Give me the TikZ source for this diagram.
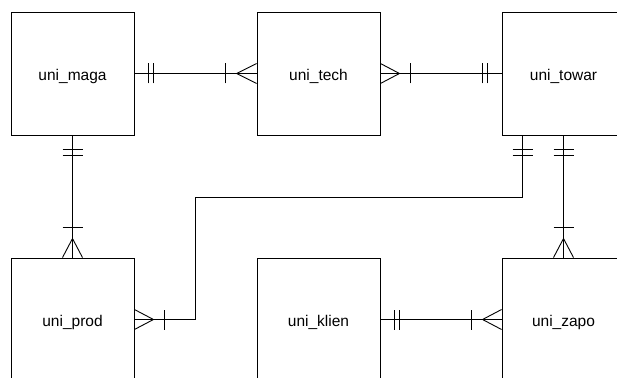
\documentclass[tikz,border=0pt]{standalone}
\usepackage{fontspec}
\setmainfont{Liberation Sans}
\begin{document}
\begin{tikzpicture}[x=1pt,y=-1pt,line width=0.9pt,
  entity/.style={draw, minimum width=123pt, minimum height=123pt, inner sep=0pt,
    text height=16pt, text depth=2pt, font=\fontsize{15.5}{18}\selectfont},
  rel/.style={draw, line width=0.9pt}]
\useasboundingbox (0,0) rectangle (617,377);
\clip (0,0) rectangle (617,377);
\node[entity] (maga)  at (72.5,73.5)  {uni\_maga};
\node[entity] (tech)  at (318.5,73.5) {uni\_tech};
\node[entity] (towar) at (563.5,73.5) {uni\_towar};
\node[entity] (prod)  at (72.5,319.5) {uni\_prod};
\node[entity] (klien) at (318.5,319.5) {uni\_klien};
\node[entity] (zapo)  at (563.5,319.5) {uni\_zapo};

% maga -- tech
\draw[rel] (maga.east) -- (tech.west);
\draw[rel] ([xshift=14pt,yshift=-10pt]maga.east) -- ([xshift=14pt,yshift=10pt]maga.east)
           ([xshift=19pt,yshift=-10pt]maga.east) -- ([xshift=19pt,yshift=10pt]maga.east);
\draw[rel] ([xshift=-31pt,yshift=-10pt]tech.west) -- ([xshift=-31pt,yshift=10pt]tech.west);
\draw[rel] ([yshift=10pt]tech.west) -- ([xshift=-20pt]tech.west) -- ([yshift=-10pt]tech.west);

% tech -- towar
\draw[rel] (tech.east) -- (towar.west);
\draw[rel] ([yshift=10pt]tech.east) -- ([xshift=19pt]tech.east) -- ([yshift=-10pt]tech.east);
\draw[rel] ([xshift=30pt,yshift=-10pt]tech.east) -- ([xshift=30pt,yshift=10pt]tech.east);
\draw[rel] ([xshift=-19pt,yshift=-10pt]towar.west) -- ([xshift=-19pt,yshift=10pt]towar.west)
           ([xshift=-14pt,yshift=-10pt]towar.west) -- ([xshift=-14pt,yshift=10pt]towar.west);

% maga -- prod
\draw[rel] (maga.south) -- (prod.north);
\draw[rel] ([xshift=-10pt,yshift=-14pt]maga.south) -- ([xshift=10pt,yshift=-14pt]maga.south)
           ([xshift=-10pt,yshift=-20pt]maga.south) -- ([xshift=10pt,yshift=-20pt]maga.south);
\draw[rel] ([xshift=-10pt,yshift=30pt]prod.north) -- ([xshift=10pt,yshift=30pt]prod.north);
\draw[rel] ([xshift=-10pt]prod.north) -- ([yshift=19pt]prod.north) -- ([xshift=10pt]prod.north);

% towar -- prod
\coordinate (tp1) at ([xshift=-41pt]towar.south);
\draw[rel] (tp1) |- (195,197) |- (prod.east);
\draw[rel] ([xshift=-10pt,yshift=-14pt]tp1) -- ([xshift=10pt,yshift=-14pt]tp1)
           ([xshift=-10pt,yshift=-20pt]tp1) -- ([xshift=10pt,yshift=-20pt]tp1);
\draw[rel] ([yshift=10pt]prod.east) -- ([xshift=19pt]prod.east) -- ([yshift=-10pt]prod.east);
\draw[rel] ([xshift=30pt,yshift=-10pt]prod.east) -- ([xshift=30pt,yshift=10pt]prod.east);

% towar -- zapo
\draw[rel] (towar.south) -- (zapo.north);
\draw[rel] ([xshift=-10pt,yshift=-14pt]towar.south) -- ([xshift=10pt,yshift=-14pt]towar.south)
           ([xshift=-10pt,yshift=-20pt]towar.south) -- ([xshift=10pt,yshift=-20pt]towar.south);
\draw[rel] ([xshift=-10pt,yshift=30pt]zapo.north) -- ([xshift=10pt,yshift=30pt]zapo.north);
\draw[rel] ([xshift=-10pt]zapo.north) -- ([yshift=19pt]zapo.north) -- ([xshift=10pt]zapo.north);

% klien -- zapo
\draw[rel] (klien.east) -- (zapo.west);
\draw[rel] ([xshift=14pt,yshift=-10pt]klien.east) -- ([xshift=14pt,yshift=10pt]klien.east)
           ([xshift=19pt,yshift=-10pt]klien.east) -- ([xshift=19pt,yshift=10pt]klien.east);
\draw[rel] ([xshift=-30pt,yshift=-10pt]zapo.west) -- ([xshift=-30pt,yshift=10pt]zapo.west);
\draw[rel] ([yshift=10pt]zapo.west) -- ([xshift=-19pt]zapo.west) -- ([yshift=-10pt]zapo.west);
\end{tikzpicture}
\end{document}
